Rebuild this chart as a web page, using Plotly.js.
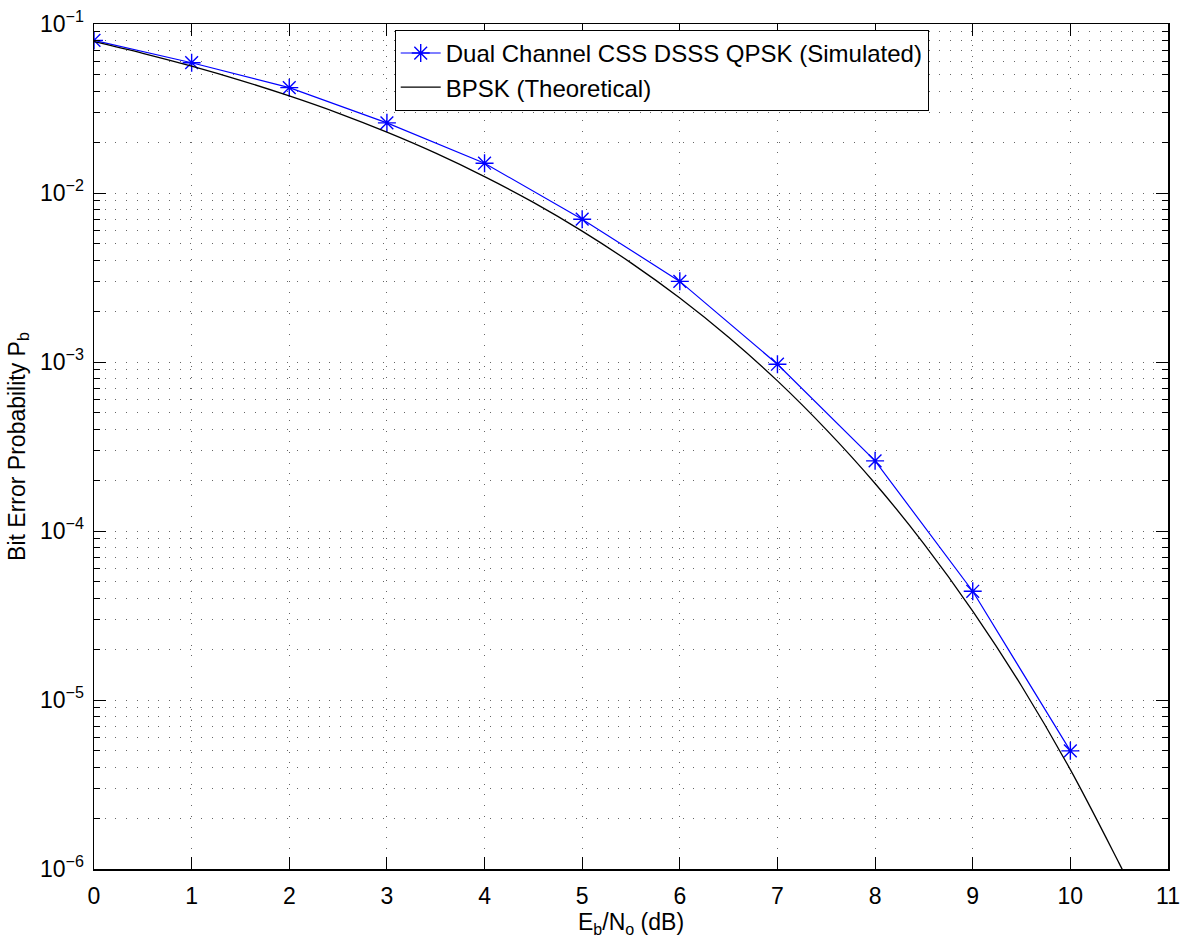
<!DOCTYPE html>
<html>
<head>
<meta charset="utf-8">
<script src="https://cdn.plot.ly/plotly-3.0.1.min.js"></script>
<style>html,body{margin:0;padding:0;background:#fff;}#chart{width:1188px;height:943px;}</style>
</head>
<body>
<div id="chart"></div>
<script>
// Simulated
const simEbNo = [0, 1, 2, 3, 4, 5, 6, 7, 8, 9, 10];
const simPb = [0.080, 0.059, 0.042, 0.026, 0.015, 0.0070, 0.0030, 0.00097, 0.00026, 0.000044, 0.0000050];
// Theoretical BPSK curve (read at half-dB steps)
const thEbNo = [0, 0.5, 1, 1.5, 2, 2.5, 3, 3.5, 4, 4.5, 5, 5.5, 6, 6.5, 7, 7.5, 8, 8.5, 9, 9.5, 10, 10.5, 10.6];
const thPb = [0.0786, 0.0671, 0.0563, 0.0464, 0.0375, 0.0297, 0.0229, 0.0172, 0.0125, 0.0088, 0.00595, 0.00386, 0.00239, 0.00140, 0.000773, 0.000398, 0.000191, 0.000084, 0.0000336, 0.0000121, 0.00000387, 0.00000108, 0.00000083];
const xTicks = [0,1,2,3,4,5,6,7,8,9,10,11];
const yTicks = [1e-6,1e-5,1e-4,1e-3,1e-2,1e-1];
const yTickText = ['10<sup>\u22126</sup>','10<sup>\u22125</sup>','10<sup>\u22124</sup>','10<sup>\u22123</sup>','10<sup>\u22122</sup>','10<sup>\u22121</sup>'];
const minorY = [];
for (let e = -6; e < -1; e++) for (let m = 2; m <= 9; m++) minorY.push(m * Math.pow(10, e));

const font = 'Liberation Sans, Arial, Helvetica, sans-serif';
const traces = [
  {x: simEbNo, y: simPb, mode: 'lines+markers', name: 'Dual Channel CSS DSSS QPSK (Simulated)',
   line: {color: '#0000ff', width: 1.2}, marker: {symbol: 'asterisk-open', size: 15, color: '#0000ff', line: {color: '#0000ff', width: 1.4}}},
  {x: thEbNo, y: thPb, mode: 'lines', name: 'BPSK (Theoretical)', line: {color: '#000000', width: 1.3, shape: 'spline'}}
];
const gridStyle = {gridcolor: '#666', griddash: '1px,9.7px', gridwidth: 1};
const layout = {
  width: 1188, height: 943,
  margin: {l: 94, r: 20, t: 24, b: 74},
  paper_bgcolor: '#fff', plot_bgcolor: '#fff',
  font: {family: font, size: 23, color: '#000'},
  showlegend: true,
  legend: {x: 0.28, y: 0.993, xanchor: 'left', yanchor: 'top', bgcolor: '#fff', bordercolor: '#000', borderwidth: 1,
           font: {family: font, size: 24}, tracegroupgap: 0, itemwidth: 40},
  xaxis: Object.assign({range: [0, 11], tickmode: 'array', tickvals: xTicks, ticks: 'inside', ticklen: 12, tickwidth: 1, tickcolor: '#000',
          showline: true, linecolor: '#000', linewidth: 1.5, mirror: 'ticks', zeroline: false, showgrid: true,
          ticklabelstandoff: 6,
          tickfont: {family: font, size: 23},
          title: {text: 'E<sub>b</sub>/N<sub>o</sub> (dB)', font: {family: font, size: 23}, standoff: 6}}, gridStyle),
  yaxis: Object.assign({type: 'log', range: [-6, -1], tickmode: 'array', tickvals: yTicks, ticktext: yTickText,
          ticks: 'inside', ticklen: 12, tickwidth: 1, tickcolor: '#000',
          showline: true, linecolor: '#000', linewidth: 1.5, mirror: 'ticks', zeroline: false, showgrid: true,
          ticklabelstandoff: 4,
          tickfont: {family: font, size: 23},
          minor: Object.assign({tickmode: 'array', tickvals: minorY, ticks: 'inside', ticklen: 6, tickcolor: '#000', showgrid: true}, gridStyle),
          title: {text: 'Bit Error Probability P<sub>b</sub>', font: {family: font, size: 23}, standoff: 8}}, gridStyle)
};
Plotly.newPlot('chart', traces, layout, {displayModeBar: false, staticPlot: true});
</script>
</body>
</html>
